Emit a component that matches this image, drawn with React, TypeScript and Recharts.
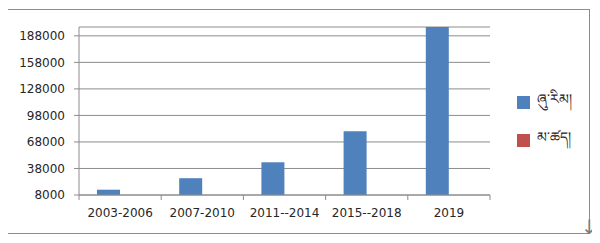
import React from "react";
import {
  BarChart,
  Bar,
  XAxis,
  YAxis,
  CartesianGrid,
  Legend,
} from "recharts";

const periods = ["2003-2006", "2007-2010", "2011--2014", "2015--2018", "2019"];
const seriesA = [14000, 27000, 45000, 80000, 198000];
const seriesB: (number | null)[] = [null, null, null, null, null];
const yTicks = [8000, 38000, 68000, 98000, 128000, 158000, 188000];
const nameA = "ཞུ་རིམ།";
const nameB = "མ་ཚད།";

const data = periods.map((p, i) => ({ period: p, a: seriesA[i], b: seriesB[i] }));

const gray = "#8c8c8c";
const textColor = "#262626";

const CategoryTick = (props: any) => {
  const { x, y, payload, index, visibleTicksCount, width } = props;
  const count = visibleTicksCount || periods.length;
  const band = (Number(width) || 411) / count;
  const left = x - band / 2;
  return (
    <g>
      <line x1={left} x2={left} y1={y} y2={y + 5} stroke={gray} />
      {index === count - 1 && (
        <line x1={x + band / 2} x2={x + band / 2} y1={y} y2={y + 5} stroke={gray} />
      )}
      <text x={x} y={y + 18} dy="0.35em" textAnchor="middle" fontSize={12} fill={textColor}>
        {payload.value}
      </text>
    </g>
  );
};

const renderLegend = (props: any) => (
  <div style={{ paddingLeft: 27 }}>
    {(props.payload || []).map((e: any) => (
      <div key={e.value} style={{ display: "flex", alignItems: "center", height: 38 }}>
        <span style={{ width: 13, height: 13, background: e.color, marginRight: 7, flex: "none" }} />
        <span style={{ fontSize: 14, color: textColor, whiteSpace: "nowrap" }}>{e.value}</span>
      </div>
    ))}
  </div>
);

export default function App() {
  return (
    <div
      style={{
        position: "relative",
        width: 583,
        height: 225,
        boxSizing: "border-box",
        border: `1px solid ${gray}`,
        marginTop: 1,
        marginLeft: -1,
        fontFamily: "'DejaVu Sans', sans-serif",
        background: "#fff",
      }}
    >
      <BarChart
        width={581}
        height={223}
        data={data}
        margin={{ top: 17, right: 20, bottom: 0, left: 0 }}
        barCategoryGap="21.9%"
        barGap={0}
      >
        <CartesianGrid vertical={false} stroke={gray} />
        <XAxis
          dataKey="period"
          height={38}
          interval={0}
          tickLine={false}
          tickSize={0}
          tickMargin={0}
          axisLine={{ stroke: gray }}
          tick={<CategoryTick />}
        />
        <YAxis
          width={71}
          domain={[8000, 198000]}
          ticks={yTicks}
          interval={0}
          tickSize={5}
          tickMargin={9}
          axisLine={{ stroke: gray }}
          tickLine={{ stroke: gray }}
          tick={{ fontSize: 12, fill: textColor }}
        />
        <Legend
          layout="vertical"
          align="right"
          verticalAlign="middle"
          itemSorter="dataKey"
          wrapperStyle={{ width: 79 }}
          content={renderLegend}
        />
        <Bar dataKey="a" name={nameA} fill="#4f81bd" isAnimationActive={false} />
        <Bar dataKey="b" name={nameB} fill="#c0504d" isAnimationActive={false} />
      </BarChart>
      <span
        style={{
          position: "absolute",
          left: 573,
          top: 207,
          fontSize: 20,
          color: "#7f7f7f",
          lineHeight: "20px",
        }}
      >
        ↓
      </span>
    </div>
  );
}
